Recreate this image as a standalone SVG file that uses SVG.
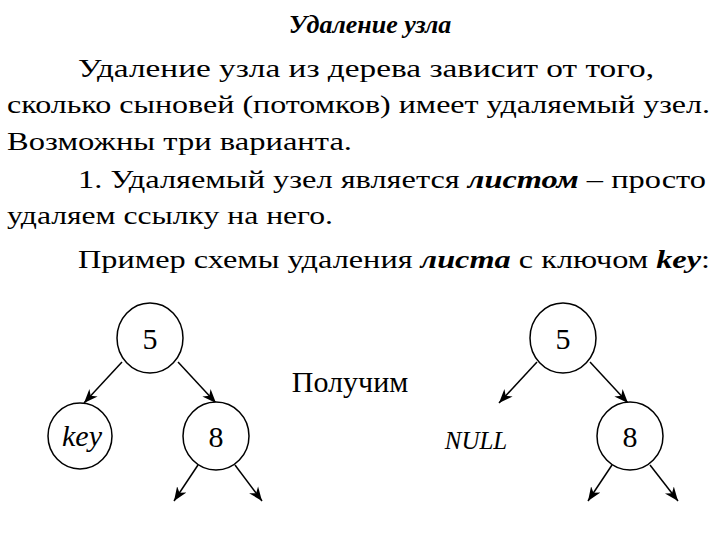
<svg xmlns="http://www.w3.org/2000/svg" width="720" height="540" viewBox="0 0 720 540" font-family="'Liberation Serif','Times New Roman',Tinos,serif">
<style>
text,tspan{font-family:'Liberation Serif','Times New Roman',Tinos,serif;fill:#000}
.t{font-size:26px}
.b{font-weight:bold;font-style:italic}
.n{fill:#fff;stroke:#000;stroke-width:1.5}
.l{font-size:30px;text-anchor:middle}
.c{stroke:#000;stroke-width:1.5;fill:none;marker-end:url(#a)}
</style>
<defs><marker id="a" viewBox="0 0 10 10" refX="10" refY="5" markerWidth="14" markerHeight="14" markerUnits="userSpaceOnUse" orient="auto"><path d="M0,1 L10,5 L0,9 L3,5 Z" fill="#000"/></marker></defs>
<rect width="720" height="540" fill="#fff"/>
<text class="t b" x="370" y="33" text-anchor="middle" font-size="27">Удаление узла</text>
<text class="t" x="78" y="77" textLength="576" lengthAdjust="spacingAndGlyphs">Удаление узла из дерева зависит от того,</text>
<text class="t" x="7" y="113" textLength="703" lengthAdjust="spacingAndGlyphs">сколько сыновей (потомков) имеет удаляемый узел.</text>
<text class="t" x="7" y="150" textLength="345" lengthAdjust="spacingAndGlyphs">Возможны три варианта.</text>
<text class="t" x="78" y="188" textLength="628" lengthAdjust="spacingAndGlyphs">1. Удаляемый узел является <tspan class="b">листом</tspan> – просто</text>
<text class="t" x="7" y="224" textLength="326" lengthAdjust="spacingAndGlyphs">удаляем ссылку на него.</text>
<text class="t" x="78" y="268" textLength="632" lengthAdjust="spacingAndGlyphs">Пример схемы удаления <tspan class="b">листа</tspan> с ключом <tspan class="b">key</tspan>:</text>
<g id="connectors">
<line class="c" x1="122" y1="362" x2="84" y2="403"/>
<line class="c" x1="178" y1="362" x2="216" y2="403"/>
<line class="c" x1="198" y1="465" x2="174" y2="501"/>
<line class="c" x1="235" y1="465" x2="262" y2="501"/>
<line class="c" x1="537" y1="362" x2="499" y2="403"/>
<line class="c" x1="590" y1="362" x2="628" y2="403"/>
<line class="c" x1="612" y1="465" x2="588" y2="501"/>
<line class="c" x1="650" y1="465" x2="678" y2="501"/>
</g>
<g id="n5a"><ellipse class="n" cx="150" cy="338" rx="33" ry="35"/><text class="l" x="150" y="349">5</text></g>
<g id="nkey"><ellipse class="n" cx="80" cy="436" rx="32" ry="33"/><text class="l" x="82" y="446" font-style="italic" font-size="28">key</text></g>
<g id="n8a"><ellipse class="n" cx="216" cy="436" rx="33" ry="34"/><text class="l" x="216" y="447">8</text></g>
<text class="l" x="350" y="392" font-size="31">Получим</text>
<g id="n5b"><ellipse class="n" cx="563" cy="338" rx="33" ry="35"/><text class="l" x="563" y="349">5</text></g>
<g id="nnull"><text x="476" y="449" font-size="25" font-style="italic" text-anchor="middle">NULL</text></g>
<g id="n8b"><ellipse class="n" cx="630" cy="436" rx="33" ry="34"/><text class="l" x="630" y="447">8</text></g>
</svg>
